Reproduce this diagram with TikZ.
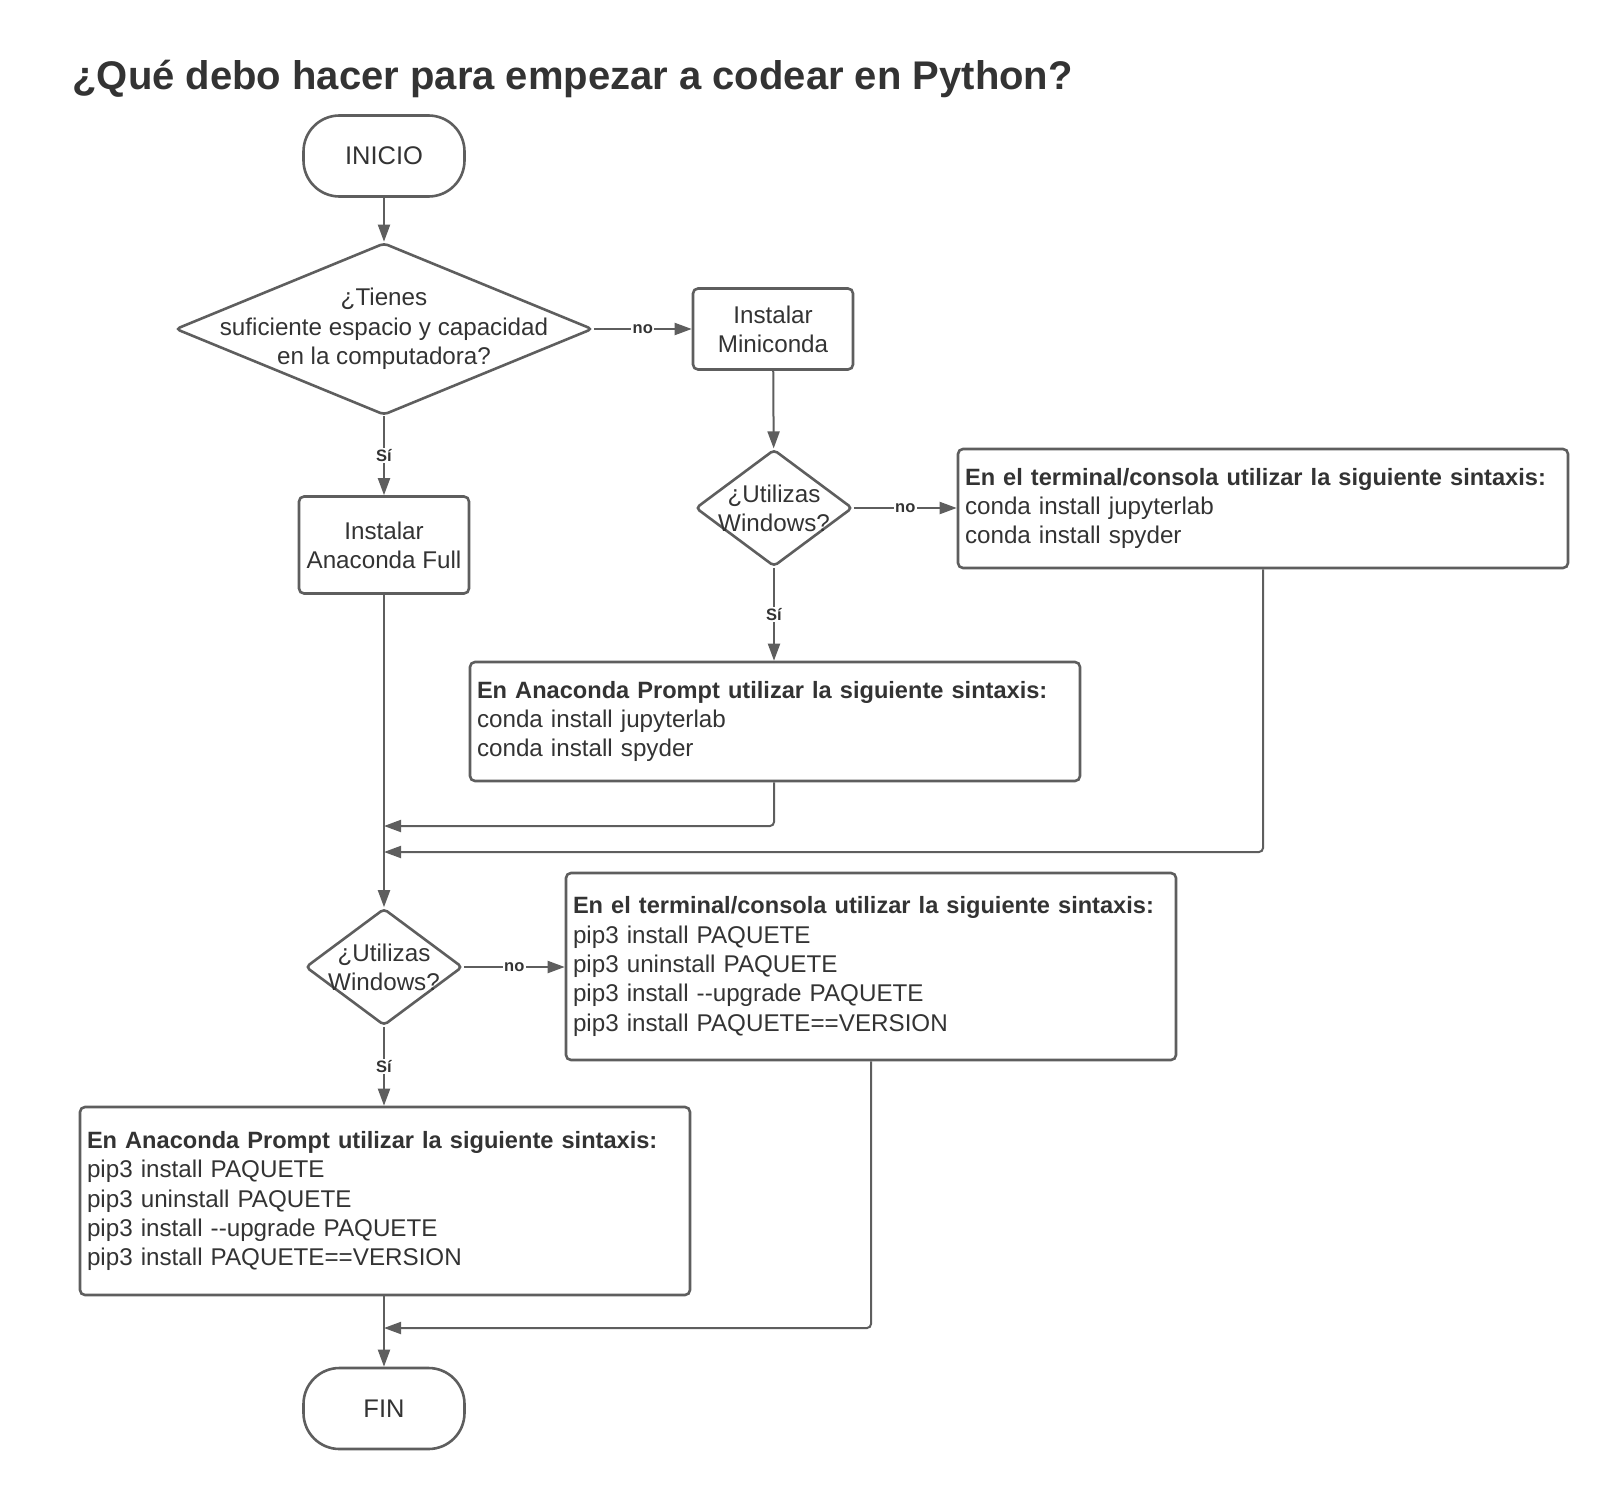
\documentclass[tikz,border=0pt]{standalone}
\usepackage{fontspec}
\setmainfont{Liberation Sans}
\usepackage{tikz}
\usetikzlibrary{arrows.meta}
\usetikzlibrary{shapes}
\usetikzlibrary{calc}
\definecolor{linegray}{HTML}{5E5E5E}
\definecolor{textgray}{HTML}{333333}
\newcommand{\bodysize}{\fontsize{24.2}{29.3}\selectfont}
\newcommand{\headsize}{\fontsize{23.6}{29.3}\selectfont\bfseries}
\tikzstyle{startstop}=[draw=linegray, line width=2.6pt, rounded corners=36pt, minimum width=161pt, minimum height=81pt, font=\fontsize{25.5}{30}\selectfont, text=textgray]
\tikzstyle{procbox}=[draw=linegray, line width=2.6pt, rounded corners=5pt, minimum height=81pt, inner sep=0pt, align=center, font=\bodysize, text=textgray]
\tikzstyle{decision}=[diamond, draw=linegray, line width=2.6pt, rounded corners=4pt, inner sep=0pt]
\tikzstyle{dtext}=[align=center, font=\bodysize, text=textgray]
\tikzstyle{codebox}=[draw=linegray, line width=2.6pt, rounded corners=5pt, minimum width=610pt, text width=596pt, inner xsep=7pt, inner ysep=0pt, align=left, font=\bodysize, text=textgray]
\tikzstyle{flow}=[draw=linegray, line width=2pt, -{Triangle[length=17pt,width=12pt]}]
\tikzstyle{lbl}=[fill=white, inner sep=1.5pt, font=\fontsize{16.5}{18}\selectfont\bfseries, text=textgray]
\newcommand{\codeNbox}[4]{
	\node[codebox, minimum height=#3] (#1) at #2 {#4};
}

\begin{document}
\begin{tikzpicture}[x=1pt, y=-1pt]
	\useasboundingbox (0,0) rectangle (1608,1490);
	\node[anchor=base west, font=\fontsize{40}{48}\selectfont\bfseries, text=textgray] (title) at (69,90) {¿Qué debo hacer para empezar a codear en Python?};
	\node[startstop] (inicio) at (384,156) {INICIO};
	\node[decision, minimum width=417pt, minimum height=172pt] (d1) at (384,329) {};
	\node[dtext] (d1t) at (d1) {¿Tienes\\suficiente espacio y capacidad\\en la computadora?};
	\node[procbox, minimum width=160pt] (mini) at (773,329) {Instalar\\Miniconda};
	\node[procbox, minimum width=170pt, minimum height=97pt] (full) at (384,545) {Instalar\\Anaconda Full};
	\node[decision, minimum width=157pt, minimum height=117pt] (d2) at (774,508) {};
	\node[dtext] (d2t) at (d2) {¿Utilizas\\Windows?};
	\codeNbox{term1}{(1263,508.5)}{119pt}{{\headsize En el terminal/consola utilizar la siguiente sintaxis:}\\conda install jupyterlab\\conda install spyder}
	\codeNbox{prompt1}{(775,721.5)}{119pt}{{\headsize En Anaconda Prompt utilizar la siguiente sintaxis:}\\conda install jupyterlab\\conda install spyder}
	\node[decision, minimum width=157pt, minimum height=117pt] (d3) at (384,967) {};
	\node[dtext] (d3t) at (d3) {¿Utilizas\\Windows?};
	\codeNbox{term2}{(871,966.5)}{187pt}{{\headsize En el terminal/consola utilizar la siguiente sintaxis:}\\pip3 install PAQUETE\\pip3 uninstall PAQUETE\\pip3 install -{}-upgrade PAQUETE\\pip3 install PAQUETE==VERSION}
	\codeNbox{prompt2}{(385,1201)}{188pt}{{\headsize En Anaconda Prompt utilizar la siguiente sintaxis:}\\pip3 install PAQUETE\\pip3 uninstall PAQUETE\\pip3 install -{}-upgrade PAQUETE\\pip3 install PAQUETE==VERSION}
	\node[startstop] (fin) at (384,1408.5) {FIN};
	% merge points on the main column
	\coordinate (m1) at (384,826);
	\coordinate (m2) at (384,852);
	\coordinate (m3) at (384,1328);
	\draw[flow] (inicio) -- (d1);
	\draw[flow] (d1) -- node[lbl] {no} (mini);
	\draw[flow] (d1) -- node[lbl] {Sí} (full);
	\draw[flow] (mini) -- (d2);
	\draw[flow] (d2.east) -- node[lbl] {no} (d2.east -| term1.west);
	\draw[flow] (d2.south) -- node[lbl] {Sí} (d2.south |- prompt1.north);
	\draw[flow] (full) -- (d3);
	\draw[flow] (d3.east) -- node[lbl] {no} (d3.east -| term2.west);
	\draw[flow] (d3.south) -- node[lbl] {Sí} (d3.south |- prompt2.north);
	\draw[flow] (prompt2.south -| fin.north) -- (fin);
	\draw[flow, rounded corners=4pt] (prompt1.south -| d2.south) |- (m1);
	\draw[flow, rounded corners=4pt] (term1.south) |- (m2);
	\draw[flow, rounded corners=4pt] (term2.south) |- (m3);
\end{tikzpicture}
\end{document}
